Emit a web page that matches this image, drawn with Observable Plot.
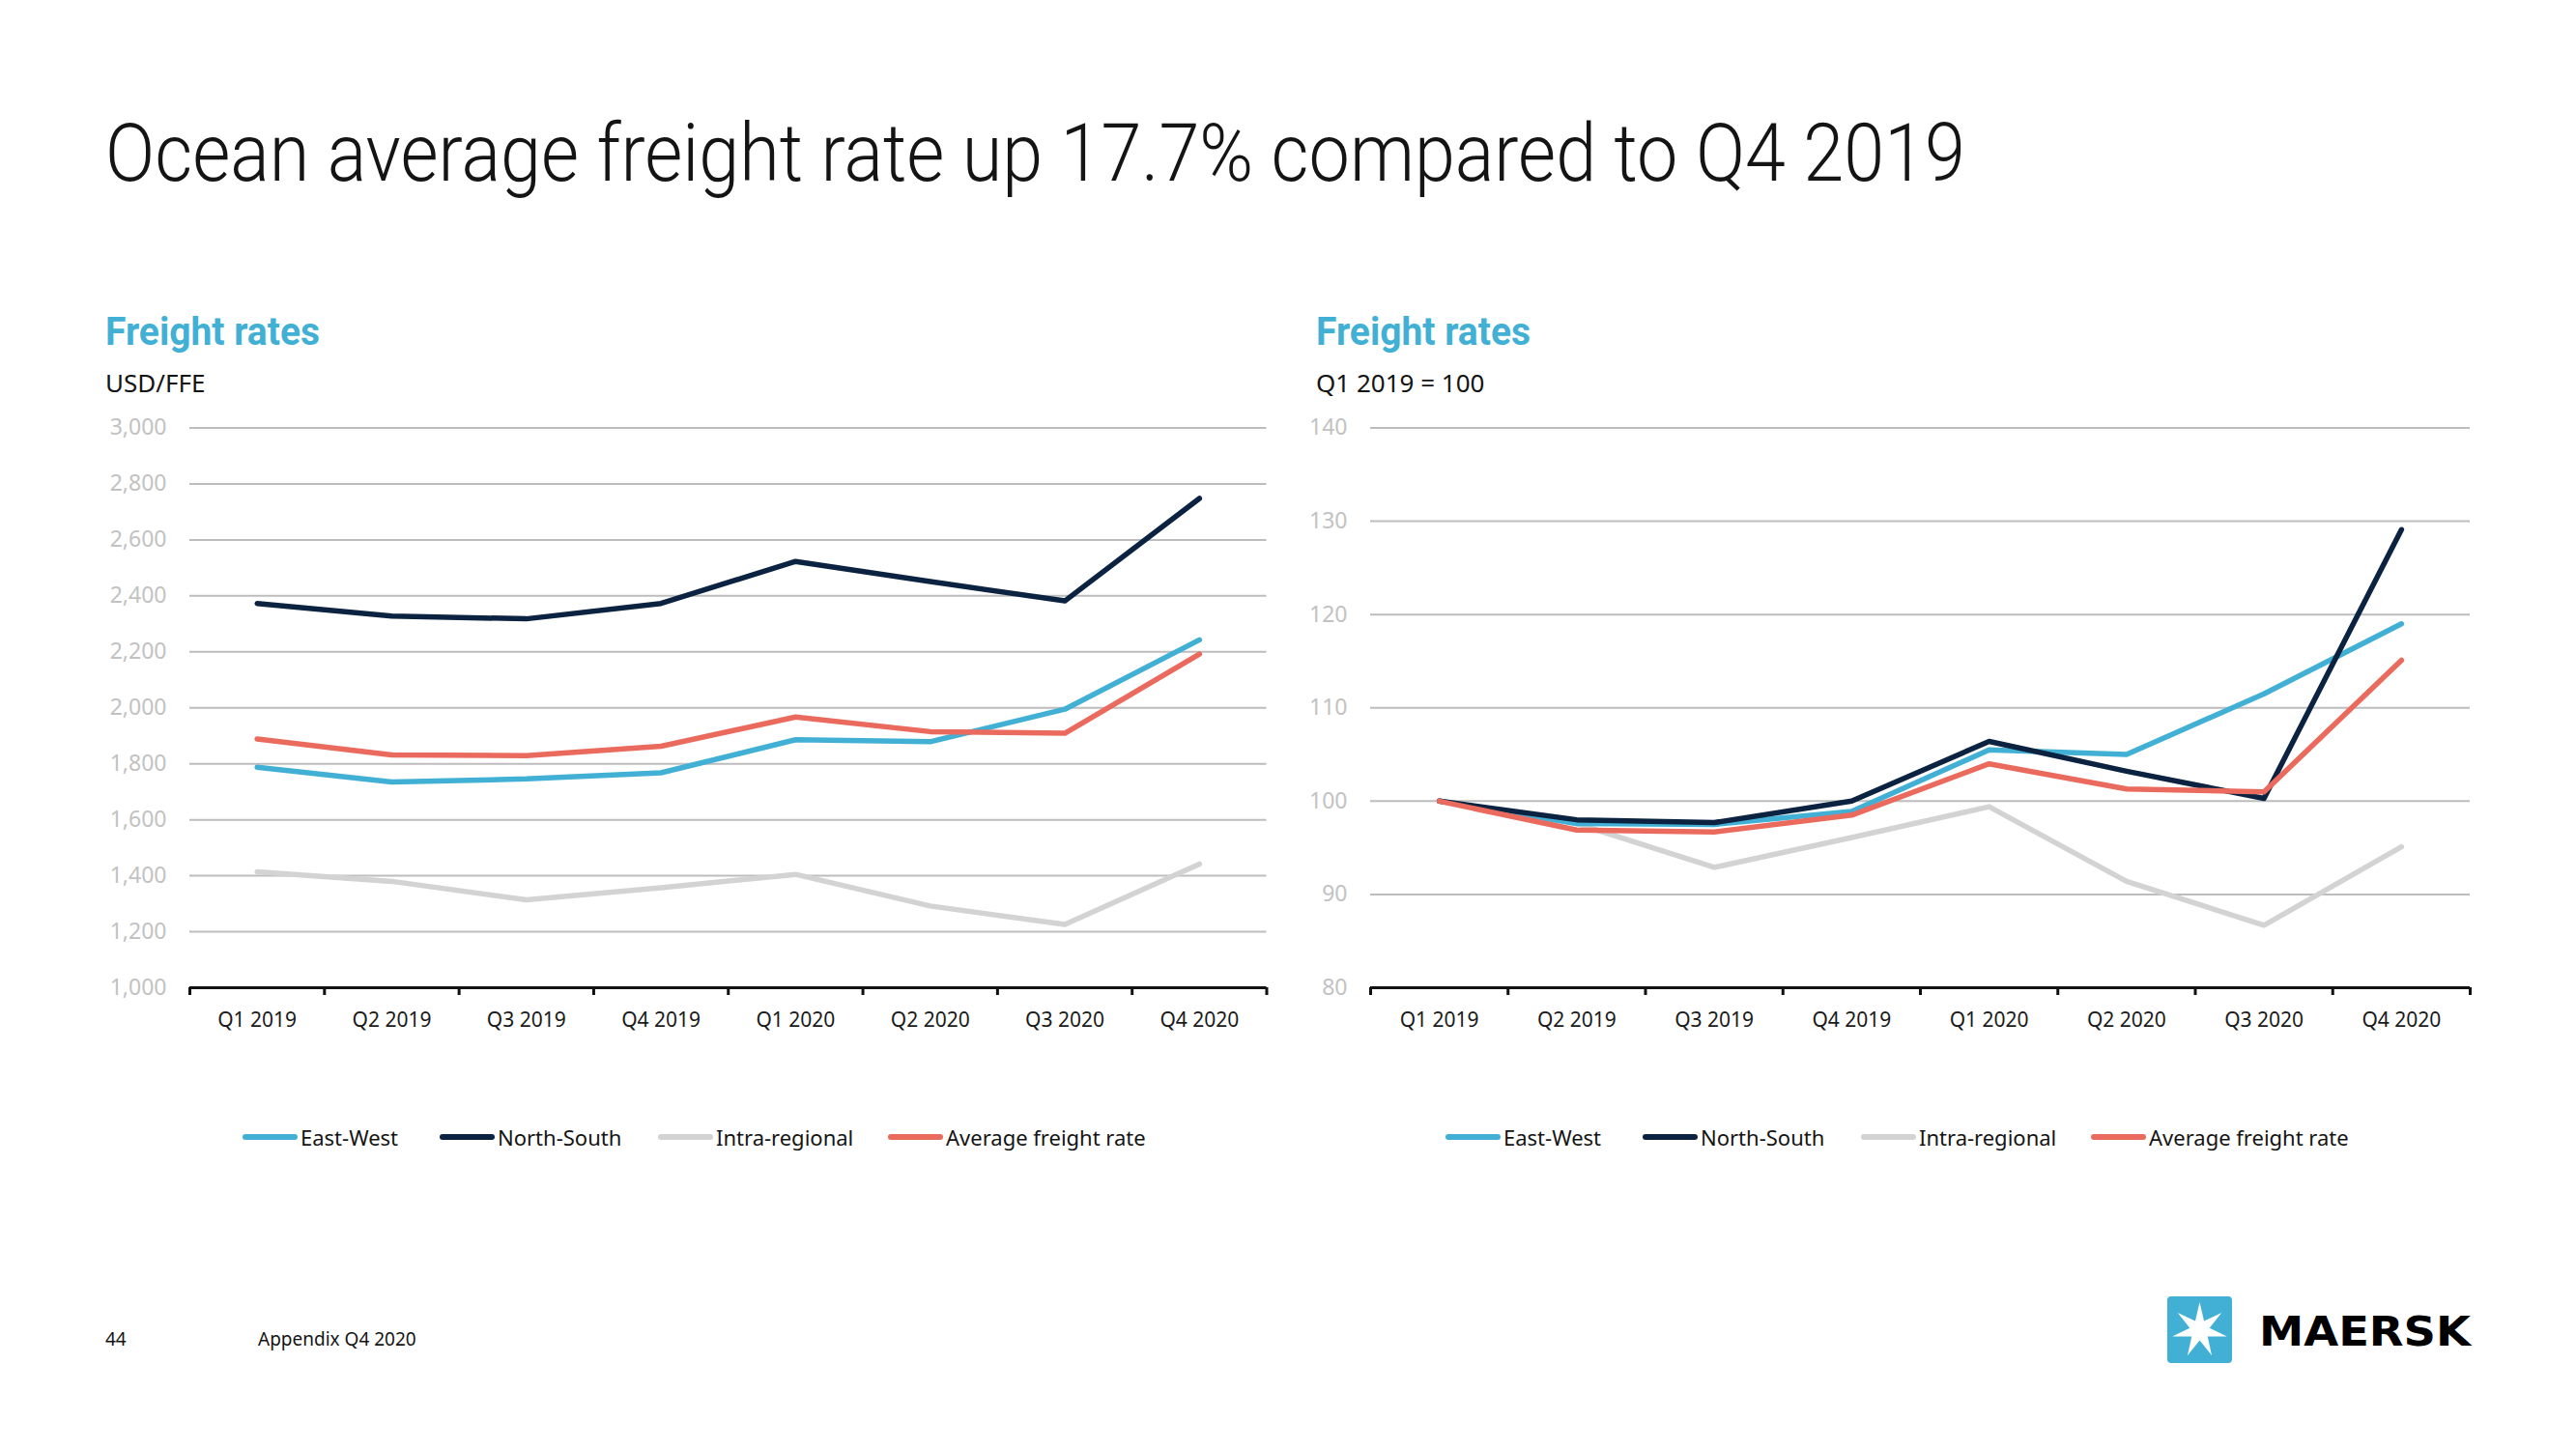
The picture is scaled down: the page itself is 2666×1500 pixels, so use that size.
<!DOCTYPE html>
<html>
<head>
<meta charset="utf-8">
<script src="https://cdn.jsdelivr.net/npm/d3@7"></script>
<script src="https://cdn.jsdelivr.net/npm/@observablehq/plot@0.6"></script>
<style>
  html, body { margin: 0; padding: 0; background: #ffffff; }
  #page { position: relative; width: 2666px; height: 1500px; background: #ffffff; overflow: hidden; }
  .chart { position: absolute; }
  .chart svg { overflow: visible; }
  .legend-item { position: absolute; display: flex; align-items: center; white-space: nowrap;
    font-family: "Noto Sans", sans-serif; font-size: 22px; color: #141414; }
  .legend-item .sw { width: 57px; height: 6px; border-radius: 3px; margin-right: 3px; }
</style>
</head>
<body>
<div id="page"></div>
<script>
// ---------------- data ----------------
const quarters = ["Q1 2019", "Q2 2019", "Q3 2019", "Q4 2019", "Q1 2020", "Q2 2020", "Q3 2020", "Q4 2020"];
const seriesNames = ["East-West", "North-South", "Intra-regional", "Average freight rate"];
const seriesColors = ["#42b0d5", "#0b2340", "#d3d3d3", "#ea6a5d"];
const drawOrder = [2, 0, 1, 3];

// USD/FFE
const usdEastWest   = [1788, 1735, 1746, 1768, 1886, 1879, 1995, 2243];
const usdNorthSouth = [2373, 2328, 2318, 2373, 2523, 2451, 2382, 2748];
const usdIntra      = [1414, 1380, 1314, 1357, 1405, 1292, 1226, 1442];
const usdAverage    = [1889, 1832, 1829, 1863, 1967, 1915, 1909, 2192];
const usdTicks = [1000, 1200, 1400, 1600, 1800, 2000, 2200, 2400, 2600, 2800, 3000];

// Index, Q1 2019 = 100
const idxEastWest   = [100, 97.6, 97.5, 98.9, 105.5, 105.0, 111.5, 119.0];
const idxNorthSouth = [100, 98.0, 97.7, 100.0, 106.4, 103.2, 100.3, 129.1];
const idxIntra      = [100, 97.6, 92.9, 96.1, 99.4, 91.4, 86.7, 95.1];
const idxAverage    = [100, 96.9, 96.7, 98.5, 104.0, 101.3, 101.0, 115.1];
const idxTicks = [80, 90, 100, 110, 120, 130, 140];

const titleText = "Ocean average freight rate up 17.7% compared to Q4 2019";
const panelTitle = "Freight rates";
const leftUnit = "USD/FFE";
const rightUnit = "Q1 2019 = 100";

// ---------------- helpers ----------------
const page = document.getElementById("page");

function place(text, {x, baseline, size, family, weight = 400, color = "#141414", width = null}) {
  const d = document.createElement("div");
  d.style.cssText = `position:absolute;left:${x}px;top:0;white-space:nowrap;font-family:${family};font-size:${size}px;font-weight:${weight};color:${color};line-height:1;transform-origin:0 0;`;
  const t = document.createElement("span");
  t.textContent = text;
  d.appendChild(t);
  const m = document.createElement("span");
  m.style.cssText = "display:inline-block;width:0;height:0;vertical-align:baseline;";
  d.appendChild(m);
  page.appendChild(d);
  const b = m.offsetTop;
  d.style.top = (baseline - b) + "px";
  if (width) {
    const w = t.getBoundingClientRect().width;
    d.style.transform = `scaleX(${width / w})`;
  }
  return d;
}

function chart({values, ticks, fmt, width, height, marginLeft, marginRight, marginTop, marginBottom}) {
  const data = drawOrder.flatMap(k => values[k].map((v, i) => ({series: seriesNames[k], i, value: v})));
  return Plot.plot({
    width, height, marginLeft, marginRight, marginTop, marginBottom,
    style: {fontFamily: "'Noto Sans', sans-serif", fontSize: "21px", background: "transparent", overflow: "visible"},
    x: {domain: [-0.5, quarters.length - 0.5], axis: null, label: null},
    y: {domain: [ticks[0], ticks[ticks.length - 1]], axis: null, label: null},
    color: {domain: seriesNames, range: seriesColors},
    marks: [
      Plot.gridY(ticks.slice(1), {stroke: "#bdbdbd", strokeOpacity: 1, strokeWidth: 2}),
      Plot.axisY(ticks, {tickSize: 0, tickPadding: 24, tickFormat: fmt, color: "#c2c2c2", fontSize: 23, label: null}),
      Plot.axisX(d3.range(quarters.length), {tickSize: 0, tickPadding: 26, tickFormat: i => quarters[i], color: "#1a1a1a", fontSize: 21, label: null}),
      Plot.axisX(d3.range(quarters.length + 1).map(i => i - 0.5), {tickSize: 8, tickFormat: () => "", strokeWidth: 3, color: "#111111", label: null}),
      Plot.ruleY([ticks[0]], {stroke: "#111111", strokeWidth: 3}),
      Plot.line(data, {x: "i", y: "value", stroke: "series", z: "series", strokeWidth: 5.5})
    ]
  });
}

function addChart(el, left, top) {
  const wrap = document.createElement("div");
  wrap.className = "chart";
  wrap.style.left = left + "px";
  wrap.style.top = top + "px";
  wrap.appendChild(el);
  page.appendChild(wrap);
}

function addLegend(xs, y) {
  seriesNames.forEach((name, k) => {
    const item = document.createElement("div");
    item.className = "legend-item";
    item.style.left = xs[k] + "px";
    item.style.top = (y - 15) + "px";
    item.style.height = "30px";
    const sw = document.createElement("div");
    sw.className = "sw";
    sw.style.background = seriesColors[k];
    const tx = document.createElement("span");
    tx.textContent = name;
    item.appendChild(sw);
    item.appendChild(tx);
    page.appendChild(item);
  });
}

// ---------------- titles ----------------
place(titleText, {x: 109, baseline: 187, size: 83, family: "Roboto, sans-serif", weight: 300, color: "#141414", width: 1925});
place(panelTitle, {x: 109, baseline: 357, size: 40, family: "Roboto, sans-serif", weight: 700, color: "#42b0d5", width: 222});
place(panelTitle, {x: 1362, baseline: 357, size: 40, family: "Roboto, sans-serif", weight: 700, color: "#42b0d5", width: 222});
place(leftUnit, {x: 109, baseline: 406, size: 26, family: "'Noto Sans', sans-serif", color: "#141414"});
place(rightUnit, {x: 1362, baseline: 406, size: 26, family: "'Noto Sans', sans-serif", color: "#141414"});

// ---------------- charts ----------------
const fmtUsd = d3.format(",");
addChart(chart({
  values: [usdEastWest, usdNorthSouth, usdIntra, usdAverage],
  ticks: usdTicks, fmt: fmtUsd,
  width: 1340, height: 680, marginLeft: 196, marginRight: 29.5, marginTop: 22.5, marginBottom: 78
}), 0, 420);

addChart(chart({
  values: [idxEastWest, idxNorthSouth, idxIntra, idxAverage],
  ticks: idxTicks, fmt: d3.format("d"),
  width: 1300, height: 680, marginLeft: 78, marginRight: 84, marginTop: 22.5, marginBottom: 78
}), 1340, 420);

// ---------------- legends ----------------
addLegend([251, 455, 681, 919], 1177);
addLegend([1496, 1700, 1926, 2164], 1177);

// ---------------- footer ----------------
place("44", {x: 109, baseline: 1393, size: 19, family: "'Noto Sans', sans-serif", color: "#141414"});
place("Appendix Q4 2020", {x: 267, baseline: 1393, size: 19, family: "'Noto Sans', sans-serif", color: "#141414"});

// ---------------- logo ----------------
(function () {
  const ns = "http://www.w3.org/2000/svg";
  const svg = document.createElementNS(ns, "svg");
  svg.setAttribute("width", 330);
  svg.setAttribute("height", 80);
  svg.style.cssText = "position:absolute;left:2236px;top:1337px;";
  const rect = document.createElementNS(ns, "rect");
  rect.setAttribute("x", 7); rect.setAttribute("y", 5);
  rect.setAttribute("width", 67); rect.setAttribute("height", 69);
  rect.setAttribute("rx", 4); rect.setAttribute("fill", "#42b0d5");
  svg.appendChild(rect);
  const cx = 40.5, cy = 40, R = 29, r = 10.5, n = 7;
  const pts = [];
  for (let j = 0; j < 2 * n; j++) {
    const a = -Math.PI / 2 + j * Math.PI / n;
    const rr = j % 2 === 0 ? R : r;
    pts.push((cx + rr * Math.cos(a)).toFixed(2) + "," + (cy + rr * Math.sin(a)).toFixed(2));
  }
  const star = document.createElementNS(ns, "polygon");
  star.setAttribute("points", pts.join(" "));
  star.setAttribute("fill", "#ffffff");
  svg.appendChild(star);
  const t = document.createElementNS(ns, "text");
  t.setAttribute("x", 102); t.setAttribute("y", 56);
  t.setAttribute("font-family", "'DejaVu Sans', sans-serif");
  t.setAttribute("font-weight", "700");
  t.setAttribute("font-size", "43");
  t.setAttribute("fill", "#000000");
  t.setAttribute("textLength", "219");
  t.setAttribute("lengthAdjust", "spacingAndGlyphs");
  t.textContent = "MAERSK";
  svg.appendChild(t);
  page.appendChild(svg);
})();
</script>
</body>
</html>
